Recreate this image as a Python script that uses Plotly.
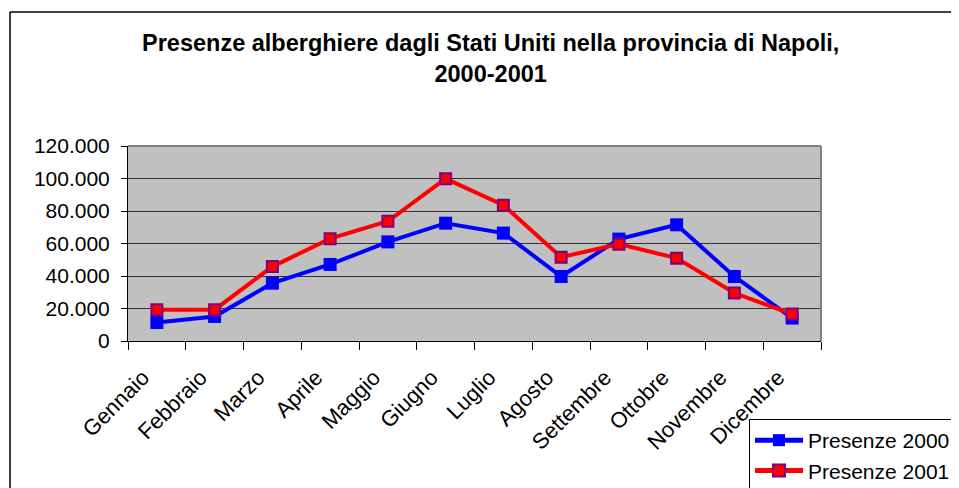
import plotly.graph_objects as go

months = ["Gennaio", "Febbraio", "Marzo", "Aprile", "Maggio", "Giugno",
          "Luglio", "Agosto", "Settembre", "Ottobre", "Novembre", "Dicembre"]
presenze_2000 = [11400, 15100, 35600, 47100, 61000, 72500,
                 66400, 39700, 62700, 71500, 39700, 14100]
presenze_2001 = [19200, 19300, 45800, 63000, 73700, 99900,
                 83600, 51600, 59600, 51000, 29500, 16600]
y_ticks = [0, 20000, 40000, 60000, 80000, 100000, 120000]
y_tick_labels = ["0", "20.000", "40.000", "60.000", "80.000", "100.000", "120.000"]

W, H = 959, 488
OFF = 8  # page body margin
L, R, T, B = 128 - OFF, 821 - OFF, 146 - OFF, 341 - OFF
font = "Liberation Sans, Arial, sans-serif"

fig = go.Figure()
fig.add_trace(go.Scatter(
    x=months, y=presenze_2000, name="Presenze 2000", mode="lines+markers",
    line=dict(color="#0000FF", width=4),
    marker=dict(symbol="square", size=13, color="#0000FF", line=dict(color="#0000FF", width=0)),
))
fig.add_trace(go.Scatter(
    x=months, y=presenze_2001, name="Presenze 2001", mode="lines+markers",
    line=dict(color="#FF0000", width=4),
    marker=dict(symbol="square", size=11, color="#FF0000", line=dict(color="#800080", width=2)),
))

pw = R - L
ph = B - T
def px(x):
    return (x - OFF - L) / pw
def py(y):
    return (B - (y - OFF)) / ph

fig.update_layout(
    width=W, height=H,
    margin=dict(l=L, r=W - R, t=T, b=H - B, pad=0, autoexpand=False),
    paper_bgcolor="white",
    plot_bgcolor="#C0C0C0",
    font=dict(family=font, size=21, color="black"),
    showlegend=True,
    legend=dict(
        xref="container", yref="container",
        x=(749 - OFF) / W, y=1 - (419 - OFF) / H, xanchor="left", yanchor="top",
        bgcolor="white", bordercolor="black", borderwidth=1,
        font=dict(family=font, size=21, color="black"),
        tracegroupgap=0, itemsizing="constant", itemwidth=48,
    ),
    xaxis=dict(
        type="category", range=[-0.5, 11.5], automargin=False,
        showgrid=False, showline=True, linecolor="black", linewidth=1,
        ticks="outside", ticklen=8, tickcolor="black", tickson="boundaries",
        tickangle=-45, tickfont=dict(family=font, size=22),
        ticklabelstandoff=14, ticklabelshift=-14,
        mirror=False, zeroline=False,
    ),
    yaxis=dict(
        range=[0, 120000], tickvals=y_ticks, ticktext=y_tick_labels, automargin=False,
        showgrid=True, gridcolor="#333333", gridwidth=1,
        showline=True, linecolor="black", linewidth=1,
        ticks="outside", ticklen=6, tickcolor="black", ticklabelstandoff=7,
        tickfont=dict(family=font, size=21), zeroline=False,
    ),
    annotations=[
        dict(
            text="<b>Presenze alberghiere dagli Stati Uniti nella provincia di Napoli,<br>2000-2001</b>",
            xref="paper", yref="paper", x=px(490), y=py(28),
            xanchor="center", yanchor="top", showarrow=False,
            font=dict(family=font, size=23.5, color="black"),
        )
    ],
    shapes=[
        dict(type="line", xref="paper", yref="paper", x0=0, x1=1, y0=1, y1=1,
             line=dict(color="#808080", width=2)),
        dict(type="line", xref="paper", yref="paper", x0=1, x1=1, y0=0, y1=1,
             line=dict(color="#808080", width=2)),
        dict(type="line", xref="paper", yref="paper", x0=px(10), x1=px(10), y0=py(12), y1=py(520),
             line=dict(color="black", width=1.5)),
        dict(type="line", xref="paper", yref="paper", x0=px(10), x1=px(1000), y0=py(12), y1=py(12),
             line=dict(color="black", width=1.5)),
    ],
)

fig.write_html("out.html")
